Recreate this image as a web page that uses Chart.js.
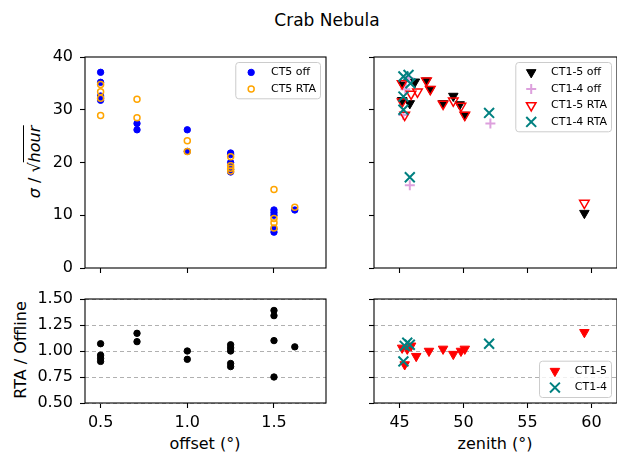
<!DOCTYPE html>
<html>
<head>
<meta charset="utf-8">
<script src="https://cdn.jsdelivr.net/npm/chart.js@4.4.1/dist/chart.umd.min.js"></script>
<style>
  body { margin: 0; background: #fff; }
  #fig { position: relative; width: 617px; height: 454px; overflow: hidden;
         font-family: 'DejaVu Sans', sans-serif; color: #000; background: #fff; }
  #fig canvas { position: absolute; }
  .txt { position: absolute; white-space: nowrap; font-size: 16px; line-height: 18px; }
  .rot { transform: translate(-50%, -50%) rotate(-90deg); }
  .hc { transform: translate(-50%, -50%); }
  .bar { border-top: 1.2px solid #000; padding-top: 1px; }
</style>
</head>
<body>
<div id="fig">
  <div class="txt hc" style="left:327px; top:20px; font-size:17px;">Crab Nebula</div>
  <div class="txt rot" style="left:35px; top:162px;"><i>σ</i> / √<span class="bar"><i>hour</i></span></div>
  <div class="txt rot" style="left:21px; top:350px;">RTA / Offline</div>
  <div class="txt hc" style="left:205px; top:444px;">offset (°)</div>
  <div class="txt hc" style="left:495px; top:444px;">zenith (°)</div>
  <canvas id="tl"></canvas>
  <canvas id="tr"></canvas>
  <canvas id="bl"></canvas>
  <canvas id="br"></canvas>
</div>
<script>
// --- data ---
// CT5 significance vs offset
const ct5OffOffset = [0.5, 0.5, 0.5, 0.5, 0.5, 0.71, 0.71, 1.0, 1.0, 1.25, 1.25, 1.25, 1.25, 1.25, 1.5, 1.5, 1.5, 1.5, 1.5, 1.62];
const ct5OffSigma  = [37.1, 35.2, 32.6, 32.2, 31.8, 27.4, 26.2, 26.2, 22.1, 21.8, 21.5, 20.0, 18.7, 18.2, 11.0, 10.5, 10.0, 7.4, 6.8, 11.0];
const ct5RtaOffset = [0.5, 0.5, 0.5, 0.5, 0.71, 0.71, 1.0, 1.0, 1.25, 1.25, 1.25, 1.25, 1.5, 1.5, 1.5, 1.5, 1.62];
const ct5RtaSigma  = [34.8, 33.4, 32.2, 28.9, 32.0, 28.5, 24.1, 22.1, 21.1, 19.4, 18.9, 18.4, 14.9, 9.4, 8.6, 7.6, 11.5];

// CT5 ratio RTA / offline
const ct5RatioOffset = [0.5, 0.5, 0.5, 0.5, 0.71, 0.71, 1.0, 1.0, 1.25, 1.25, 1.25, 1.25, 1.25, 1.5, 1.5, 1.5, 1.5, 1.62];
const ct5Ratio       = [1.07, 0.96, 0.93, 0.90, 1.17, 1.09, 1.0, 0.92, 1.06, 1.03, 1.0, 0.88, 0.85, 1.39, 1.34, 1.10, 0.75, 1.04];

// CT1-4 / CT1-5 significance vs zenith
const ct15OffZenith = [45.2, 45.2, 45.8, 46.2, 47.1, 47.4, 48.4, 49.2, 49.7, 50.1, 59.45];
const ct15OffSigma  = [35.0, 31.8, 31.2, 35.3, 35.5, 33.9, 31.2, 32.6, 31.0, 29.0, 10.4];
const ct14OffZenith = [45.3, 45.45, 45.5, 45.7, 45.8, 52.1];
const ct14OffSigma  = [29.0, 33.9, 35.5, 36.0, 15.7, 27.4];
const ct15RtaZenith = [45.2, 45.2, 45.4, 45.9, 46.4, 47.1, 47.4, 48.4, 49.2, 49.8, 50.1, 59.45];
const ct15RtaSigma  = [35.0, 31.5, 29.0, 33.0, 33.4, 35.5, 33.9, 31.1, 31.7, 30.7, 29.0, 12.3];
const ct14RtaZenith = [45.3, 45.7, 45.85, 45.3, 45.3, 45.8, 52.0];
const ct14RtaSigma  = [36.3, 36.6, 35.0, 32.5, 30.0, 17.2, 29.4];

// CT1-4 / CT1-5 ratio
const ct15RatioZenith = [45.2, 45.4, 45.6, 45.9, 46.3, 47.3, 48.4, 49.2, 49.8, 50.1, 59.45];
const ct15Ratio       = [1.03, 0.87, 1.02, 1.05, 0.95, 1.0, 1.02, 0.97, 1.0, 1.02, 1.18];
const ct14RatioZenith = [45.3, 45.4, 45.6, 45.8, 52.0];
const ct14Ratio       = [0.90, 1.05, 1.08, 1.06, 1.07];

// tick values
const sigmaTicks  = [0, 10, 20, 30, 40];
const ratioTicks  = [0.5, 0.75, 1.0, 1.25, 1.5];
const offsetTicks = [0.5, 1.0, 1.5];
const zenithTicks = [45, 50, 55, 60];

Chart.defaults.font.family = "'DejaVu Sans', sans-serif";
Chart.defaults.font.size = 16;
Chart.defaults.color = '#000';

const PAD = 22; // room around each axes box for label overflow

function pts(xs, ys) { return xs.map((x, i) => ({ x: x, y: ys[i] })); }

// full box around the axes, like matplotlib spines
const framePlugin = {
  id: 'frame',
  afterDraw(chart) {
    const a = chart.chartArea, c = chart.ctx;
    c.save();
    c.strokeStyle = '#000';
    c.lineWidth = 1.1;
    c.strokeRect(a.left, a.top, a.right - a.left, a.bottom - a.top);
    c.restore();
  }
};

// legend drawn inside the axes
const boxLegend = {
  id: 'boxLegend',
  afterDraw(chart, args, opts) {
    const items = opts.items;
    if (!items || !items.length) return;
    const ctx = chart.ctx, a = chart.chartArea;
    const fs = 11, pad = fs * 0.4, hl = fs * 2, tp = fs * 0.8, sp = fs * 0.5, bap = fs * 0.5;
    ctx.save();
    ctx.font = fs + "px 'DejaVu Sans', sans-serif";
    const tw = Math.max(...items.map(it => ctx.measureText(it.label).width));
    const w = pad * 2 + hl + tp + tw;
    const h = pad * 2 + items.length * fs + (items.length - 1) * sp;
    const x0 = a.right - bap - w;
    const y0 = opts.loc === 'lower right' ? a.bottom - bap - h : a.top + bap;
    ctx.beginPath();
    ctx.roundRect(x0, y0, w, h, 3);
    ctx.fillStyle = 'rgba(255,255,255,0.8)';
    ctx.fill();
    ctx.strokeStyle = '#cccccc';
    ctx.lineWidth = 1;
    ctx.stroke();
    items.forEach((it, i) => {
      const ds = chart.data.datasets[it.dataset];
      const cy = y0 + pad + i * (fs + sp) + fs / 2;
      ctx.fillStyle = ds.pointBackgroundColor;
      ctx.strokeStyle = ds.pointBorderColor;
      ctx.lineWidth = ds.pointBorderWidth;
      Chart.helpers.drawPoint(ctx, {
        pointStyle: ds.pointStyle, rotation: ds.pointRotation || 0,
        radius: ds.pointRadius, borderWidth: ds.pointBorderWidth
      }, x0 + pad + hl / 2, cy);
      ctx.fillStyle = '#000';
      ctx.textAlign = 'left';
      ctx.textBaseline = 'middle';
      ctx.fillText(it.label, x0 + pad + hl + tp, cy);
    });
    ctx.restore();
  }
};

function axis(min, max, ticks, opts) {
  return {
    type: 'linear',
    position: opts.pos,
    min: min, max: max,
    afterBuildTicks: s => { s.ticks = ticks.map(v => ({ value: v })); },
    afterFit: s => { if (opts.pos === 'left') s.width = opts.size; else s.height = opts.size; },
    ticks: {
      display: opts.labels, autoSkip: false, maxRotation: 0, padding: opts.pos === 'left' ? 7 : 5,
      callback: v => opts.fmt(v)
    },
    grid: {
      drawOnChartArea: !!opts.grid, color: opts.grid ? '#b0b0b0' : '#000', lineWidth: 1,
      tickLength: 5, tickColor: '#000', tickWidth: 1.1, tickBorderDash: []
    },
    border: { display: false, dash: opts.grid ? [4, 3] : [] }
  };
}

function panel(id, frame, leftSpace, bottomSpace, datasets, scales, legend) {
  const cv = document.getElementById(id);
  const left = frame.l - leftSpace, top = frame.t - PAD;
  const w = Math.round(frame.r - frame.l + leftSpace + PAD);
  const h = Math.round(frame.b - frame.t + PAD + bottomSpace);
  cv.width = w; cv.height = h;
  cv.style.left = left + 'px'; cv.style.top = top + 'px';
  cv.style.width = w + 'px'; cv.style.height = h + 'px';
  new Chart(cv, {
    type: 'scatter',
    data: { datasets: datasets },
    options: {
      responsive: false, animation: false, events: [], devicePixelRatio: 1,
      layout: { padding: { left: 0, top: PAD, right: PAD, bottom: 0 } },
      scales: scales,
      plugins: { legend: { display: false }, tooltip: { enabled: false }, boxLegend: legend || {} }
    },
    plugins: [framePlugin, boxLegend]
  });
}

function ds(data, style, order) {
  return Object.assign({ data: data, order: order, showLine: false }, style);
}

const blueDot   = { pointStyle: 'circle', pointRadius: 3.2, pointBackgroundColor: 'blue', pointBorderColor: 'blue', pointBorderWidth: 1 };
const orangeRing = { pointStyle: 'circle', pointRadius: 3, pointBackgroundColor: 'rgba(0,0,0,0)', pointBorderColor: 'orange', pointBorderWidth: 1.5 };
const blackDot  = { pointStyle: 'circle', pointRadius: 3.2, pointBackgroundColor: 'black', pointBorderColor: 'black', pointBorderWidth: 1 };
const blackTri  = { pointStyle: 'triangle', pointRotation: 180, pointRadius: 5.5, pointBackgroundColor: 'black', pointBorderColor: 'black', pointBorderWidth: 1 };
const redOpenTri = { pointStyle: 'triangle', pointRotation: 180, pointRadius: 5.5, pointBackgroundColor: 'rgba(0,0,0,0)', pointBorderColor: 'red', pointBorderWidth: 1.5 };
const redTri    = { pointStyle: 'triangle', pointRotation: 180, pointRadius: 5.5, pointBackgroundColor: 'red', pointBorderColor: 'red', pointBorderWidth: 1 };
const plumPlus  = { pointStyle: 'cross', pointRadius: 5, pointBackgroundColor: 'plum', pointBorderColor: 'plum', pointBorderWidth: 2 };
const tealX     = { pointStyle: 'crossRot', pointRadius: 7, pointBackgroundColor: 'teal', pointBorderColor: 'teal', pointBorderWidth: 2 };

const f0 = v => String(v), f1 = v => v.toFixed(1), f2 = v => v.toFixed(2);

// top left: CT5 sigma vs offset
panel('tl', { l: 85, t: 57, r: 326, b: 268 }, 85, PAD, [
  ds(pts(ct5OffOffset, ct5OffSigma), blueDot, 2),
  ds(pts(ct5RtaOffset, ct5RtaSigma), orangeRing, 1)
], {
  x: axis(0.41, 1.8, offsetTicks, { pos: 'bottom', size: PAD, labels: false, fmt: f1 }),
  y: axis(0, 40, sigmaTicks, { pos: 'left', size: 85, labels: true, fmt: f0 })
}, { loc: 'upper right', items: [{ dataset: 0, label: 'CT5 off' }, { dataset: 1, label: 'CT5 RTA' }] });

// top right: CT1-x sigma vs zenith
panel('tr', { l: 374, t: 57, r: 617, b: 268 }, 10, PAD, [
  ds(pts(ct15OffZenith, ct15OffSigma), blackTri, 4),
  ds(pts(ct14OffZenith, ct14OffSigma), plumPlus, 3),
  ds(pts(ct15RtaZenith, ct15RtaSigma), redOpenTri, 2),
  ds(pts(ct14RtaZenith, ct14RtaSigma), tealX, 1)
], {
  x: axis(43, 62, zenithTicks, { pos: 'bottom', size: PAD, labels: false, fmt: f0 }),
  y: axis(0, 40, sigmaTicks, { pos: 'left', size: 10, labels: false, fmt: f0 })
}, { loc: 'upper right', items: [
  { dataset: 0, label: 'CT1-5 off' }, { dataset: 1, label: 'CT1-4 off' },
  { dataset: 2, label: 'CT1-5 RTA' }, { dataset: 3, label: 'CT1-4 RTA' }] });

// bottom left: CT5 ratio
panel('bl', { l: 85, t: 299, r: 326, b: 403 }, 85, 40, [
  ds(pts(ct5RatioOffset, ct5Ratio), blackDot, 1)
], {
  x: axis(0.41, 1.8, offsetTicks, { pos: 'bottom', size: 40, labels: true, fmt: f1 }),
  y: axis(0.5, 1.5, ratioTicks, { pos: 'left', size: 85, labels: true, fmt: f2, grid: true })
});

// bottom right: CT1-x ratio
panel('br', { l: 374, t: 299, r: 617, b: 403 }, 10, 40, [
  ds(pts(ct15RatioZenith, ct15Ratio), redTri, 2),
  ds(pts(ct14RatioZenith, ct14Ratio), tealX, 1)
], {
  x: axis(43, 62, zenithTicks, { pos: 'bottom', size: 40, labels: true, fmt: f0 }),
  y: axis(0.5, 1.5, ratioTicks, { pos: 'left', size: 10, labels: false, fmt: f2, grid: true })
}, { loc: 'lower right', items: [{ dataset: 0, label: 'CT1-5' }, { dataset: 1, label: 'CT1-4' }] });
</script>
</body>
</html>
